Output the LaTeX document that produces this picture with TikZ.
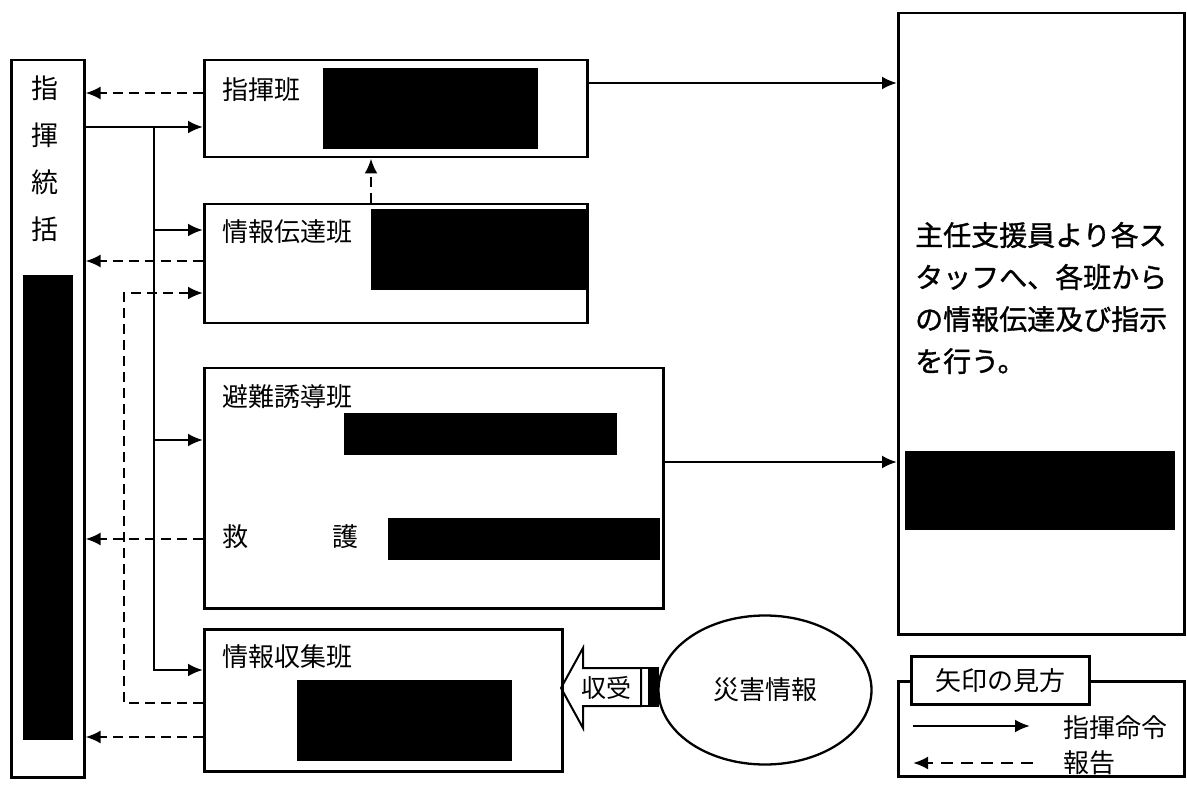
\documentclass[tikz,border=0pt]{standalone}
\usepackage{fontspec}
\newfontfamily\jpfont{Noto Sans CJK JP}
\newfontfamily\jpbold[FakeBold=1.2]{Noto Sans CJK JP}
\usetikzlibrary{positioning}
\usetikzlibrary{arrows.meta}
\usetikzlibrary{shapes.geometric}

\begin{document}
\begin{tikzpicture}[x=1pt, y=-1pt,
        box/.style={draw, line width=2.5pt, anchor=north west, inner sep=0pt},
        lbl/.style={anchor=west, inner sep=0pt, font=\jpfont\fontsize{26}{26}\selectfont},
        order/.style={line width=2.5pt, -{Latex[length=15pt,width=13pt]}},
        report/.style={line width=2.5pt, dash pattern=on 10pt off 6pt, -{Latex[length=15pt,width=13pt]}},
        redact/.style={fill=black}]
    \useasboundingbox (0,0) rectangle (1187,786);

    \node[box, minimum width=73pt, minimum height=717pt] (tokatsu) at (10,59) {};
    \node[anchor=north, align=center, inner sep=0pt, font=\jpfont\fontsize{27}{47}\selectfont] (tokatsulbl) at (45,76) {指\\揮\\統\\括};
    \fill[redact] (23,275) rectangle (73,740);

    \node[box, minimum width=383pt, minimum height=97pt] (shiki) at (203,59) {};
    \node[lbl] (shikilbl) at (222,90) {指揮班};
    \fill[redact] (323,68) rectangle (538,149);

    \node[box, minimum width=383pt, minimum height=119pt] (dentatsu) at (203,203) {};
    \node[lbl] (dentatsulbl) at (222,232) {情報伝達班};
    \fill[redact] (371,209) rectangle (586,290);

    \node[box, minimum width=459pt, minimum height=240pt] (yudo) at (203,367) {};
    \node[lbl] (yudolbl) at (222,397) {避難誘導班};
    \node[lbl] (kyulbl) at (222,537) {救};
    \node[lbl] (golbl) at (332,537) {護};
    \fill[redact] (344,413) rectangle (617,455);
    \fill[redact] (388,518) rectangle (660,560);

    \node[box, minimum width=358pt, minimum height=142pt] (shushu) at (203,628) {};
    \node[lbl] (shushulbl) at (222,657) {情報収集班};
    \fill[redact] (297,680) rectangle (512,761);

    \node[box, minimum width=286pt, minimum height=621pt] (staff) at (897,12) {};
    \node[anchor=west, align=left, inner sep=0pt, font=\jpbold\fontsize{28}{42}\selectfont] (stafflbl) at (915,298)
        {主任支援員より各ス\\タッフへ、各班から\\の情報伝達及び指示\\を行う。};
    \fill[redact] (905,451) rectangle (1175,530);

    \node[draw, ellipse, line width=2.3pt, minimum width=213pt, minimum height=149pt, inner sep=0pt, font=\jpfont\fontsize{26}{26}\selectfont] (saigai) at (765,690) {災害情報};
    \draw[line width=2pt, line join=miter] (561,688) -- (583,648) -- (583,668) -- (641,668) -- (641,706) -- (583,706) -- (583,728) -- cycle;
    \draw[line width=1.5pt] (641,668) rectangle (658,706);
    \fill (648,668) rectangle (658,706);
    \node[lbl, font=\jpfont\fontsize{25}{25}\selectfont] (jujulbl) at (581,688) {収受};

    \node[box, minimum width=286pt, minimum height=95pt] (legend) at (897,680) {};
    \node[box, fill=white, minimum width=178pt, minimum height=48pt, font=\jpfont\fontsize{26}{26}\selectfont] (legendtitle) at (910,655) {矢印の見方};
    \coordinate (ordA) at (913,726);
    \coordinate (ordB) at (1030,726);
    \coordinate (repA) at (1033,763);
    \coordinate (repB) at (913,763);
    \draw[order] (ordA) -- (ordB);
    \draw[report, dash pattern=on 12pt off 8pt] (repA) -- (repB);
    \node[lbl] (ordlbl) at (1063,728) {指揮命令};
    \node[lbl] (replbl) at (1063,763) {報告};

    \coordinate (trunk) at (154,127);
    \draw[order] (tokatsu.east |- trunk) -- (shiki.west |- trunk);
    \draw[order] (trunk) |- (shushu.west |- 0,670);
    \draw[order] (trunk |- 0,230) -- (dentatsu.west |- 0,230);
    \draw[order] (trunk |- 0,440) -- (yudo.west |- 0,440);

    \draw[report] (shiki.west |- 0,93) -- (tokatsu.east |- 0,93);
    \draw[report] (dentatsu.west |- 0,261) -- (tokatsu.east |- 0,261);
    \draw[report] (yudo.west |- 0,539) -- (tokatsu.east |- 0,539);
    \draw[report] (shushu.west |- 0,737) -- (tokatsu.east |- 0,737);
    \draw[report] (shushu.west |- 0,703) -| (124,293) -- (dentatsu.west |- 0,293);
    \draw[report] (dentatsu.north -| 371,0) -- (shiki.south -| 371,0);

    \draw[order] (shiki.east |- 0,83) -- (staff.west |- 0,83);
    \draw[order] (yudo.east |- 0,462) -- (staff.west |- 0,462);
\end{tikzpicture}
\end{document}
